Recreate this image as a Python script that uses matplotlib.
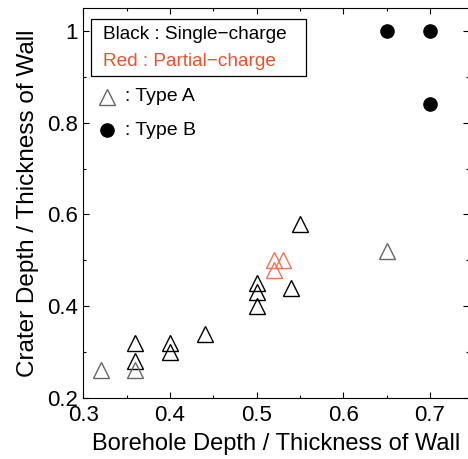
import matplotlib
matplotlib.use('Agg')
import matplotlib.pyplot as plt
from matplotlib.patches import Rectangle
from matplotlib.ticker import MultipleLocator

plt.rcParams['font.family'] = ['Liberation Sans', 'DejaVu Sans']

# Type A, single charge (black)
type_a_x = [0.36, 0.36, 0.40, 0.40, 0.44, 0.50, 0.50, 0.50, 0.54, 0.55]
type_a_y = [0.32, 0.28, 0.32, 0.30, 0.34, 0.45, 0.43, 0.40, 0.44, 0.58]
# Type A, single charge drawn in grey
type_a_grey_x = [0.32, 0.36, 0.65]
type_a_grey_y = [0.26, 0.26, 0.52]
# Type A, partial charge (red)
partial_x = [0.52, 0.53, 0.52]
partial_y = [0.50, 0.50, 0.48]
# Type B
type_b_x = [0.65, 0.70, 0.70]
type_b_y = [1.00, 1.00, 0.84]

RED = '#f0502e'
RED_MARK = '#f07458'

fig = plt.figure(figsize=(4.68, 4.59), dpi=100)
ax = fig.add_axes([83.4 / 468, 1 - 398 / 459, 386 / 468, 390 / 459])

tri = dict(marker='^', linestyle='none', markersize=11.5, markerfacecolor='none', markeredgewidth=1.0)
ax.plot(type_a_x, type_a_y, markeredgecolor='black', **tri)
ax.plot(type_a_grey_x, type_a_grey_y, markeredgecolor='#666666', **tri)
ax.plot(partial_x, partial_y, markeredgecolor=RED_MARK, **tri)
ax.plot(type_b_x, type_b_y, marker='o', linestyle='none', markersize=9.5, color='black')

ax.set_xlim(0.3, 0.7457)
ax.set_ylim(0.2, 1.05)
ax.xaxis.set_minor_locator(MultipleLocator(0.05))
ax.yaxis.set_minor_locator(MultipleLocator(0.1))
ax.set_xticks([0.3, 0.4, 0.5, 0.6, 0.7])
ax.set_xticklabels(['0.3', '0.4', '0.5', '0.6', '0.7'])
ax.set_yticks([0.2, 0.4, 0.6, 0.8, 1.0])
ax.set_yticklabels(['0.2', '0.4', '0.6', '0.8', '1'])

ax.tick_params(which='both', direction='in', top=True, right=True, labelsize=16, width=0.8)
ax.tick_params(which='major', length=4)
ax.tick_params(which='minor', length=2.5)
ax.tick_params(axis='y', pad=4)
ax.tick_params(axis='x', pad=5)
for s in ax.spines.values():
    s.set_linewidth(0.8)
ax.spines['right'].set_visible(False)

ax.set_xlabel('Borehole Depth / Thickness of Wall', fontsize=17, labelpad=5)
ax.set_ylabel('Crater Depth / Thickness of Wall', fontsize=17.5, labelpad=6)

# legend box
ax.add_patch(Rectangle((0.0197, 0.826), 0.557, 0.145, transform=ax.transAxes,
                       fill=False, edgecolor='black', linewidth=0.9, zorder=5))
ax.text(0.05, 0.933, 'Black : Single\u2212charge', transform=ax.transAxes,
        fontsize=13.7, va='center', ha='left', color='black')
ax.text(0.05, 0.862, 'Red : Partial\u2212charge', transform=ax.transAxes,
        fontsize=13.7, va='center', ha='left', color=RED)
ax.plot([0.060], [0.772], transform=ax.transAxes, markeredgecolor='#666666', **tri)
ax.text(0.108, 0.772, ': Type A', transform=ax.transAxes, fontsize=14, va='center', ha='left')
ax.plot([0.061], [0.687], transform=ax.transAxes, marker='o', markersize=9.5, color='black')
ax.text(0.108, 0.687, ': Type B', transform=ax.transAxes, fontsize=14, va='center', ha='left')

fig.savefig('out.png', dpi=100)
